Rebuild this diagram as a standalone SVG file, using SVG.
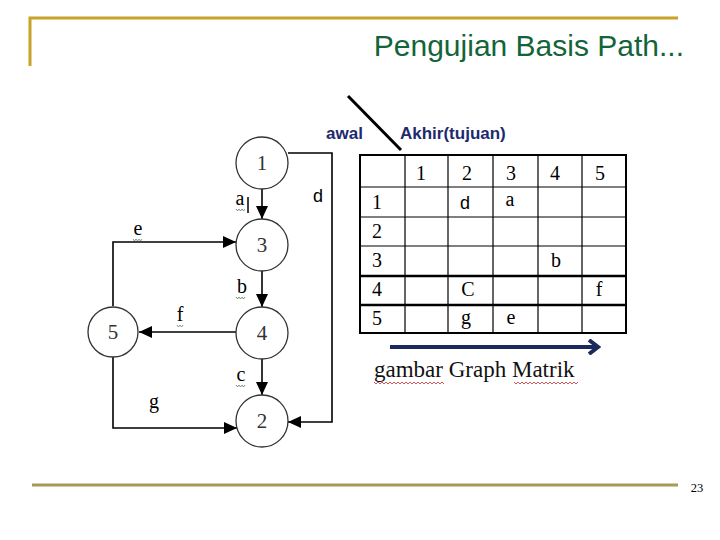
<svg xmlns="http://www.w3.org/2000/svg" width="720" height="540" viewBox="0 0 720 540">
<style>
.frame{stroke:#C9A227;stroke-width:3;fill:none}
.foot{stroke:#A89A52;stroke-width:3;fill:none}
.title{font-family:"Liberation Sans",Arial,sans-serif;font-size:30px;fill:#14643A}
.node circle{fill:#fff;stroke:#333;stroke-width:1.3}
.node text{font-family:"Liberation Serif","Times New Roman",serif;font-size:21px;fill:#333;text-anchor:middle}
.edge{stroke:#000;stroke-width:1.6;fill:none}
.lbl{font-family:"Liberation Serif","Times New Roman",serif;font-size:20px;fill:#000;text-anchor:middle}
.sans{font-family:"Liberation Sans",Arial,sans-serif;font-size:18px;fill:#000;text-anchor:middle}
.squig{stroke:#5A8A5A;stroke-width:0.8;fill:none}
.rsq{stroke:#C03030;stroke-width:0.8;fill:none}
.hdr{font-family:"Liberation Sans",Arial,sans-serif;font-weight:bold;font-size:17px;fill:#1C2B6E}
.grid{stroke:#000;stroke-width:1.2;fill:none}
.tt{font-family:"Liberation Serif","Times New Roman",serif;font-size:20px;fill:#000;text-anchor:middle}
</style>
<defs>
<marker id="ah" markerUnits="userSpaceOnUse" markerWidth="14" markerHeight="14" viewBox="0 0 14 14" refX="13" refY="7" orient="auto">
<path d="M0,1 L13,7 L0,13 Z" fill="#000"/>
</marker>
<marker id="bh" markerUnits="userSpaceOnUse" markerWidth="14" markerHeight="16" viewBox="0 0 14 16" refX="11" refY="8" orient="auto">
<path d="M2,1 L11,8 L2,15" fill="none" stroke="#1B2A5A" stroke-width="4"/>
</marker>
</defs>
<rect width="720" height="540" fill="#fff"/>
<!-- frame -->
<path class="frame" d="M30,66 L30,18 L678,18"/>
<text class="title" x="684" y="56" text-anchor="end">Pengujian Basis Path...</text>
<line class="foot" x1="32" y1="485" x2="678" y2="485"/>
<text x="697" y="492" font-family="Liberation Serif,serif" font-size="12.5" text-anchor="middle" fill="#000">23</text>

<!-- connectors -->
<g id="connectors">
<line class="edge" x1="262" y1="189" x2="262" y2="219" marker-end="url(#ah)"/>
<line class="edge" x1="262" y1="271" x2="262" y2="307" marker-end="url(#ah)"/>
<line class="edge" x1="262" y1="359" x2="262" y2="395" marker-end="url(#ah)"/>
<line class="edge" x1="236" y1="332" x2="139" y2="332" marker-end="url(#ah)"/>
<polyline class="edge" points="113,306 113,242 236,242" marker-end="url(#ah)"/>
<polyline class="edge" points="113,357 113,428 237,428" marker-end="url(#ah)"/>
<polyline class="edge" points="288,153 332,153 332,422 288,422" marker-end="url(#ah)"/>
<line x1="248" y1="197" x2="248" y2="213" stroke="#000" stroke-width="1.5"/>
</g>

<!-- edge labels -->
<text class="lbl" x="240" y="205">a</text>
<text class="lbl" x="242" y="293">b</text>
<text class="lbl" x="241" y="381">c</text>
<text class="lbl" x="138" y="235">e</text>
<text class="lbl" x="180" y="321">f</text>
<text class="lbl" x="154" y="408">g</text>
<text class="sans" x="318" y="202">d</text>
<polyline class="squig" points="236,209 237.5,211 239,209 240.5,211 242,209 243.5,211 245,209"/>
<polyline class="squig" points="236,297 237.5,299 239,297 240.5,299 242,297 243.5,299 245,297"/>
<polyline class="squig" points="236,385 237.5,387 239,385 240.5,387 242,385 243.5,387 245,385"/>
<polyline class="squig" points="133,239 134.5,241 136,239 137.5,241 139,239 140.5,241 142,239"/>
<polyline class="squig" points="177,325 178.5,327 180,325 181.5,327 183,325"/>

<!-- nodes -->
<g id="n1" class="node"><circle cx="262" cy="163" r="26"/><text x="262" y="170">1</text></g>
<g id="n3" class="node"><circle cx="262" cy="245" r="26"/><text x="262" y="252">3</text></g>
<g id="n4" class="node"><circle cx="262" cy="333" r="26"/><text x="262" y="340">4</text></g>
<g id="n2" class="node"><circle cx="262" cy="421" r="26"/><text x="262" y="428">2</text></g>
<g id="n5" class="node"><circle cx="113" cy="332" r="25"/><text x="113" y="339">5</text></g>

<!-- matrix -->
<g id="matrix">
<line x1="348" y1="96" x2="401" y2="150" stroke="#000" stroke-width="3"/>
<text class="hdr" x="326" y="139">awal</text>
<text class="hdr" x="400" y="139">Akhir(tujuan)</text>
<rect x="360" y="155" width="266" height="178" fill="none" stroke="#000" stroke-width="2"/>
<path class="grid" d="M405,155V333 M448,155V333 M493,155V333 M538,155V333 M582,155V333 M360,187H626 M360,217H626 M360,246H626"/>
<path d="M360,276H626 M360,305H626" stroke="#000" stroke-width="2.4"/>
<text class="tt" x="421" y="180">1</text>
<text class="tt" x="467" y="180">2</text>
<text class="tt" x="511" y="180">3</text>
<text class="tt" x="555" y="180">4</text>
<text class="tt" x="600" y="180">5</text>
<text class="tt" x="377" y="209" fill="#4A1510">1</text>
<text class="tt" x="377" y="238">2</text>
<text class="tt" x="377" y="267">3</text>
<text class="tt" x="377" y="296">4</text>
<text class="tt" x="377" y="325">5</text>
<text class="sans" x="465" y="209">d</text>
<text class="tt" x="510" y="206">a</text>
<text class="tt" x="556" y="267">b</text>
<text class="tt" x="468" y="296">C</text>
<text class="tt" x="599" y="296">f</text>
<text class="tt" x="466" y="324">g</text>
<text class="tt" x="511" y="324">e</text>
<line x1="390" y1="347" x2="598" y2="347" stroke="#1B2A5A" stroke-width="4" marker-end="url(#bh)"/>
<text x="374" y="377" font-family="Liberation Serif,'Times New Roman',serif" font-size="23" fill="#111">gambar Graph Matrik</text>
<polyline class="rsq" points="374,382 376,384 378,382 380,384 382,382 384,384 386,382 388,384 390,382 392,384 394,382 396,384 398,382 400,384 402,382 404,384 406,382 408,384 410,382 412,384 414,382 416,384 418,382 420,384 422,382 424,384 426,382 428,384 430,382 432,384 434,382 436,384 438,382 440,384 442,382 444,384"/>
<polyline class="rsq" points="514,382 516,384 518,382 520,384 522,382 524,384 526,382 528,384 530,382 532,384 534,382 536,384 538,382 540,384 542,382 544,384 546,382 548,384 550,382 552,384 554,382 556,384 558,382 560,384 562,382 564,384 566,382 568,384 570,382 572,384 574,382 576,384 578,382"/>
</g>
</svg>
